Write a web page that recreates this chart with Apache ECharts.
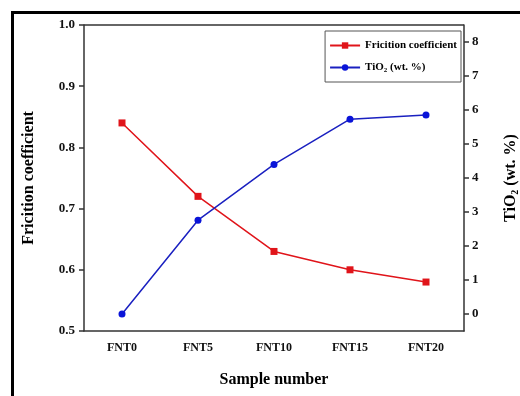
<!DOCTYPE html>
<html>
<head>
<meta charset="utf-8">
<script src="https://cdn.jsdelivr.net/npm/echarts@6/dist/echarts.min.js"></script>
<style>
  html, body { margin: 0; padding: 0; background: #fff; }
  #main { width: 520px; height: 396px; }
</style>
</head>
<body>
<div id="main"></div>
<script>
// data
var samples = ["FNT0", "FNT5", "FNT10", "FNT15", "FNT20"];
var friction = [0.84, 0.72, 0.63, 0.60, 0.58];
var tio2 = [0, 2.76, 4.40, 5.73, 5.85];
var tio2Ticks = [0, 1, 2, 3, 4, 5, 6, 7, 8];

var font = "Liberation Serif";
var axisColor = "#333";

var myChart = echarts.init(document.getElementById("main"));
myChart.setOption({
  animation: false,
  grid: { left: 84, right: 56, top: 25, bottom: 65, outerBoundsMode: "none" },
  graphic: [
    // frame around the figure (top + left edges only visible)
    { type: "rect", shape: { x: 11, y: 11, width: 509, height: 3 }, style: { fill: "#000" } },
    { type: "rect", shape: { x: 11, y: 11, width: 3, height: 385 }, style: { fill: "#000" } }
  ],
  legend: {
    right: 59,
    top: 31,
    orient: "vertical",
    itemGap: 11,
    itemWidth: 30,
    itemHeight: 8,
    padding: [9, 4, 8, 4],
    borderColor: "#555",
    borderWidth: 1,
    data: ["Fricition coefficient", "TiO2"],
    formatter: function(name) {
      return name == "TiO2" ? "TiO{sub|2} (wt. %)" : name;
    },
    textStyle: {
      fontFamily: font,
      fontWeight: "bold",
      fontSize: 11,
      color: "#000",
      rich: {
        sub: { fontFamily: font, fontWeight: "bold", fontSize: 7, verticalAlign: "bottom", padding: [6, 0, 0, 0] }
      }
    }
  },
  xAxis: {
    type: "category",
    data: samples,
    boundaryGap: true,
    name: "Sample number",
    nameLocation: "middle",
    nameGap: 41,
    nameTextStyle: { fontFamily: font, fontWeight: "bold", fontSize: 16, color: "#000" },
    axisLine: { onZero: false, lineStyle: { color: axisColor, width: 1.5 } },
    axisTick: { alignWithLabel: true, length: 5, lineStyle: { color: axisColor, width: 1.5 } },
    axisLabel: { fontFamily: font, fontWeight: "bold", fontSize: 12, color: "#111", margin: 11 }
  },
  yAxis: [
    {
      type: "value",
      min: 0.5,
      max: 1.0,
      interval: 0.1,
      name: "Fricition coefficient",
      nameLocation: "middle",
      nameGap: 47,
      nameTextStyle: { fontFamily: font, fontWeight: "bold", fontSize: 16, color: "#000" },
      splitLine: { show: false },
      axisLine: { show: true, onZero: false, lineStyle: { color: axisColor, width: 1.5 } },
      axisTick: { show: true, length: 5, lineStyle: { color: axisColor, width: 1.5 } },
      axisLabel: {
        fontFamily: font, fontWeight: "bold", fontSize: 13, color: "#111", margin: 9,
        formatter: function(v) { return v.toFixed(1); }
      }
    },
    {
      type: "value",
      min: -0.5,
      max: 8.5,
      position: "right",
      name: "TiO{sub|2} (wt. %)",
      nameLocation: "middle",
      nameRotate: 90,
      nameGap: 38,
      nameTextStyle: {
        fontFamily: font, fontWeight: "bold", fontSize: 16, color: "#000",
        rich: {
          sub: { fontFamily: font, fontWeight: "bold", fontSize: 10, verticalAlign: "bottom", padding: [8, 0, 0, 0] }
        }
      },
      splitLine: { show: false },
      axisLine: { show: true, onZero: false, lineStyle: { color: axisColor, width: 1.5 } },
      axisTick: { show: true, length: 5, customValues: tio2Ticks, lineStyle: { color: axisColor, width: 1.5 } },
      axisLabel: {
        fontFamily: font, fontWeight: "bold", fontSize: 13, color: "#111", margin: 8,
        customValues: tio2Ticks
      }
    }
  ],
  series: [
    {
      name: "Fricition coefficient",
      type: "line",
      yAxisIndex: 0,
      data: friction,
      symbol: "rect",
      symbolSize: 7,
      itemStyle: { color: "#e0141a" },
      lineStyle: { color: "#e0141a", width: 1.5 }
    },
    {
      name: "TiO2",
      type: "line",
      yAxisIndex: 1,
      data: tio2,
      symbol: "circle",
      symbolSize: 7,
      itemStyle: { color: "#0a14d8" },
      lineStyle: { color: "#1a20c0", width: 1.5 }
    },
    {
      // closes the top edge of the plot box
      type: "line",
      yAxisIndex: 0,
      data: [],
      markLine: {
        silent: true,
        symbol: "none",
        label: { show: false },
        lineStyle: { color: axisColor, width: 1.5, type: "solid" },
        data: [{ yAxis: 1.0 }]
      }
    }
  ]
});
window.addEventListener("resize", function() { myChart.resize(); });
</script>
</body>
</html>
